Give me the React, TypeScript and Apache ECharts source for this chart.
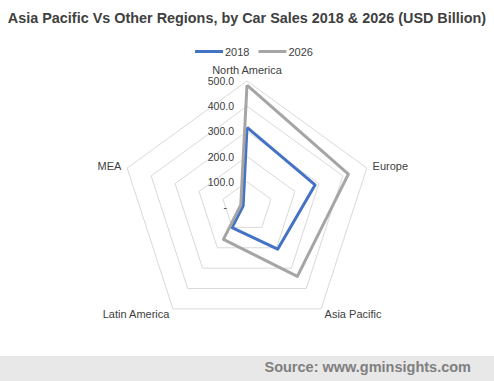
import React, { useEffect, useRef } from "react";
import * as echarts from "echarts";

// Indicators in display order (counter-clockwise from top)
const categories = ["North America", "MEA", "Latin America", "Asia Pacific", "Europe"];
const series2018 = [316, 16, 101, 207, 284];
const series2026 = [484, 26, 159, 340, 423];
const seriesNames = ["2018", "2026"];
const axisMax = 500;

const FONT = "'Liberation Sans', Arial, sans-serif";

export default function App() {
  const ref = useRef<HTMLDivElement>(null);
  useEffect(() => {
    if (!ref.current) return;
    const chart = echarts.init(ref.current, undefined, { renderer: "svg" });
    chart.setOption({
      animation: false,
      backgroundColor: "#ffffff",
      textStyle: { fontFamily: FONT },
      title: {
        text: "Asia Pacific Vs Other Regions, by Car Sales 2018 & 2026 (USD Billion)",
        left: "center",
        top: 6,
        textStyle: { fontFamily: FONT, fontSize: 14.4, fontWeight: "bold", color: "#404040" },
      },
      legend: {
        data: seriesNames,
        top: 41,
        left: 190,
        icon: "rect",
        itemWidth: 28,
        itemHeight: 3,
        itemGap: 9,
        textStyle: { fontFamily: FONT, fontSize: 11, color: "#404040", padding: [0, 0, 0, -3] },
      },
      radar: {
        center: [247, 207],
        radius: 126,
        startAngle: 90,
        shape: "polygon",
        splitNumber: 5,
        nameGap: 6,
        axisName: { color: "#404040", fontSize: 11, fontFamily: FONT },
        axisLine: { show: false },
        axisTick: { show: false },
        axisLabel: { show: false },
        splitArea: { show: false },
        splitLine: { lineStyle: { color: "#d9d9d9", width: 1 } },
        indicator: categories.map((name, i) => ({
          name,
          min: 0,
          max: axisMax,
          ...(i === 0
            ? {
                axisLabel: {
                  show: true,
                  fontSize: 10.5,
                  fontFamily: FONT,
                  color: "#404040",
                  margin: 13,
                  formatter: (v: number) => (v === 0 ? "{d|-}" : v.toFixed(1)),
                  rich: { d: { fontSize: 10.5, fontFamily: FONT, color: "#404040", padding: [0, 7, 0, 0] } },
                },
              }
            : {}),
        })),
      },
      series: [
        {
          type: "radar",
          symbol: "none",
          data: [
            { name: seriesNames[0], value: series2018, lineStyle: { color: "#4472C4", width: 3 }, itemStyle: { color: "#4472C4" } },
            { name: seriesNames[1], value: series2026, lineStyle: { color: "#A5A5A5", width: 3 }, itemStyle: { color: "#A5A5A5" } },
          ],
        },
      ],
      graphic: [
        { type: "rect", left: 0, top: 356, shape: { width: 494, height: 25 }, style: { fill: "#e8e8e8" }, z: -1 },
        {
          type: "text",
          right: 23,
          top: 359,
          style: { text: "Source: www.gminsights.com", fill: "#7f7f7f", font: `bold 14.5px ${FONT}` },
        },
      ],
    });
    return () => chart.dispose();
  }, []);
  return <div ref={ref} style={{ position: "fixed", left: 0, top: 0, width: 494, height: 381 }} />;
}
